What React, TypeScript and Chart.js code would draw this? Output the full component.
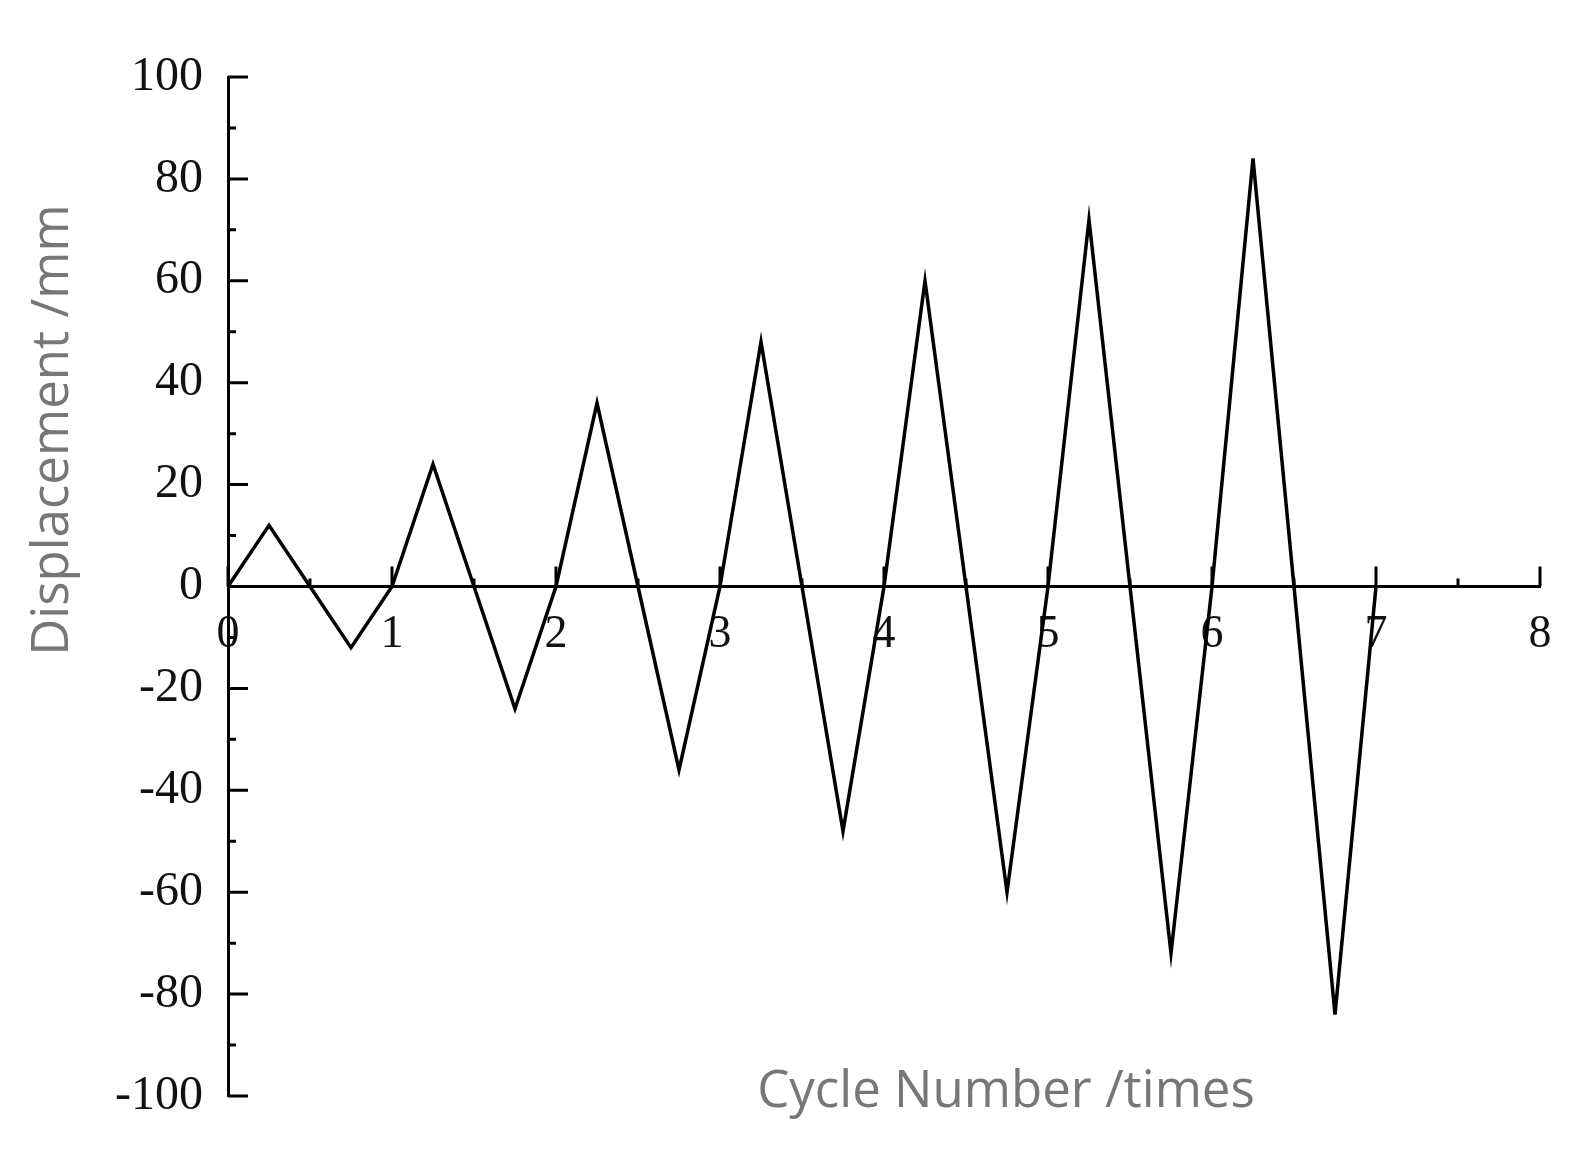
import React, { useEffect, useRef } from 'react';
import { Chart, registerables } from 'chart.js';

Chart.register(...registerables);

// Cycle number (x) and displacement (mm) of the loading protocol
const cycleNumber = [
  0, 0.25, 0.5, 0.75, 1,
  1.25, 1.5, 1.75, 2,
  2.25, 2.5, 2.75, 3,
  3.25, 3.5, 3.75, 4,
  4.25, 4.5, 4.75, 5,
  5.25, 5.5, 5.75, 6,
  6.25, 6.5, 6.75, 7,
];
const displacement = [
  0, 12, 0, -12, 0,
  24, 0, -24, 0,
  36, 0, -36, 0,
  48, 0, -48, 0,
  60, 0, -60, 0,
  72, 0, -72, 0,
  84, 0, -84, 0,
];
const xTickValues = [0, 1, 2, 3, 4, 5, 6, 7, 8];
const xMinorTickValues = [0.5, 1.5, 2.5, 3.5, 4.5, 5.5, 6.5, 7.5];
const yTickValues = [-100, -80, -60, -40, -20, 0, 20, 40, 60, 80, 100];
const yMinorTickValues = [-90, -70, -50, -30, -10, 10, 30, 50, 70, 90];

const xTitle = 'Cycle Number /times';
const yTitle = 'Displacement /mm';

const tickFont = '"Liberation Serif", "Times New Roman", serif';
const titleFont = '"Open Sans", "Noto Sans", sans-serif';

const innerTicksPlugin = {
  id: 'innerTicks',
  afterDatasetsDraw(chart: any) {
    const { ctx, chartArea, scales } = chart;
    const xs = scales.x;
    const ys = scales.y;
    const y0 = ys.getPixelForValue(0);
    ctx.save();
    ctx.strokeStyle = '#000';
    ctx.lineWidth = 3;
    ctx.beginPath();
    xTickValues.forEach((v) => {
      const px = xs.getPixelForValue(v);
      ctx.moveTo(px, y0);
      ctx.lineTo(px, y0 - 20);
    });
    xMinorTickValues.forEach((v) => {
      const px = xs.getPixelForValue(v);
      ctx.moveTo(px, y0);
      ctx.lineTo(px, y0 - 8);
    });
    yTickValues.forEach((v) => {
      const py = ys.getPixelForValue(v);
      ctx.moveTo(chartArea.left, py);
      ctx.lineTo(chartArea.left + 20, py);
    });
    yMinorTickValues.forEach((v) => {
      const py = ys.getPixelForValue(v);
      ctx.moveTo(chartArea.left, py);
      ctx.lineTo(chartArea.left + 8, py);
    });
    ctx.stroke();
    ctx.restore();
  },
  afterDraw(chart: any) {
    const { ctx } = chart;
    ctx.save();
    ctx.fillStyle = '#777';
    ctx.font = `51px ${titleFont}`;
    ctx.textAlign = 'center';
    ctx.textBaseline = 'middle';
    ctx.fillText(xTitle, 1006, 1092);
    ctx.translate(53, 430);
    ctx.rotate(-Math.PI / 2);
    ctx.fillText(yTitle, 0, 0);
    ctx.restore();
  },
};

export default function App() {
  const canvasRef = useRef<HTMLCanvasElement | null>(null);

  useEffect(() => {
    document.body.style.margin = '0';
    const canvas = canvasRef.current;
    if (!canvas) return;
    const chart = new Chart(canvas, {
      type: 'line',
      data: {
        datasets: [
          {
            data: cycleNumber.map((x, i) => ({ x, y: displacement[i] })),
            borderColor: '#000',
            borderWidth: 3.5,
            pointRadius: 0,
            tension: 0,
            fill: false,
          },
        ],
      },
      options: {
        animation: false,
        responsive: false,
        devicePixelRatio: 1,
        layout: { padding: { top: 77, bottom: 69, right: 45, left: 0 } },
        plugins: {
          legend: { display: false },
          tooltip: { enabled: false },
          title: { display: false },
        },
        scales: {
          x: {
            type: 'linear',
            min: 0,
            max: 8,
            position: { y: 0 } as any,
            grid: { display: false },
            border: { display: true, color: '#000', width: 3 },
            afterBuildTicks: (s: any) => {
              s.ticks = xTickValues.map((v) => ({ value: v }));
            },
            ticks: {
              color: '#111',
              font: { family: tickFont, size: 46 },
              padding: 13,
              maxRotation: 0,
              autoSkip: false,
              callback: (v: any) => String(v),
            },
          },
          y: {
            type: 'linear',
            position: 'left',
            min: -100,
            max: 100,
            grid: { display: false },
            border: { display: true, color: '#000', width: 3 },
            afterBuildTicks: (s: any) => {
              s.ticks = yTickValues.map((v) => ({ value: v }));
            },
            afterFit: (s: any) => {
              s.width = 228;
            },
            ticks: {
              color: '#111',
              font: { family: tickFont, size: 48 },
              padding: 17,
              autoSkip: false,
              callback: (v: any) => String(v),
            },
          },
        },
      },
      plugins: [innerTicksPlugin],
    });
    return () => chart.destroy();
  }, []);

  return (
    <div style={{ position: 'absolute', left: 0, top: 0, width: 1585, height: 1165, background: '#fff' }}>
      <canvas ref={canvasRef} width={1585} height={1165} />
    </div>
  );
}
